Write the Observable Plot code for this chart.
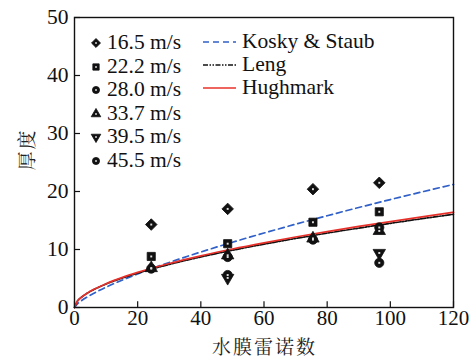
<!DOCTYPE html>
<html><head><meta charset="utf-8">
<script src="https://cdn.jsdelivr.net/npm/d3@7"></script>
<script src="https://cdn.jsdelivr.net/npm/@observablehq/plot@0.6"></script>
</head>
<body style="margin:0;background:#fff;font-family:'Liberation Serif',serif">
<div id="wrap" style="position:relative;width:471px;height:358px;font-family:'Liberation Serif',serif"></div>
<script>
// ---- data ----
const speeds = ["16.5 m/s", "22.2 m/s", "28.0 m/s", "33.7 m/s", "39.5 m/s", "45.5 m/s"];
const speedSymbols = ["square", "square", "circle", "triangle", "triangle", "circle"];
const speedRotate = [45, 0, 0, 0, 180, 0];
const reX = [24.3, 48.5, 75.5, 96.5];
const y165 = [14.3, 17.0, 20.4, 21.5];
const y222 = [8.8, 11.0, 14.7, 16.5];
const y280 = [6.7, 8.7, 11.7, 13.8];
const y337 = [6.8, 9.0, 11.9, 13.2];
const y395 = [null, 5.1, null, 9.4];
const y455 = [null, 5.6, null, 7.7];
const seriesY = [y165, y222, y280, y337, y395, y455];

const curveX = [0, 1, 2, 4, 6, 10, 15, 20, 30, 40, 50, 60, 70, 80, 90, 100, 110, 120];
const kosky = [0, 0.66, 1.09, 1.80, 2.42, 3.50, 4.70, 5.79, 7.77, 9.57, 11.25, 12.84, 14.36, 15.82, 17.24, 18.61, 19.93, 21.22];
const leng = [0, 1.15, 1.68, 2.45, 3.05, 4.05, 5.05, 5.93, 7.43, 8.72, 9.87, 10.92, 11.90, 12.82, 13.69, 14.51, 15.31, 16.07];
const hughmark = [0, 1.14, 1.68, 2.47, 3.09, 4.11, 5.15, 6.05, 7.58, 8.90, 10.08, 11.15, 12.15, 13.09, 13.98, 14.82, 15.63, 16.41];
const models = ["Kosky & Staub", "Leng", "Hughmark"];
const modelColors = ["#3060c8", "#111111", "#e8302a"];
const modelDash = ["6,4", "5,1.5,1.5,1.5,1.5,1.5", null];
const modelValues = [kosky, leng, hughmark];

const xTicks = [0, 20, 40, 60, 80, 100, 120];
const yTicks = [0, 10, 20, 30, 40, 50];

// ---- build tables ----
const points = [];
seriesY.forEach((ys, s) => ys.forEach((v, i) => {
  if (v != null) points.push({x: reX[i], y: v, s, symbol: speedSymbols[s], rot: speedRotate[s]});
}));
const curves = modelValues.map(vals => curveX.map((x, i) => ({x, y: vals[i]})));

const plot = Plot.plot({
  width: 471, height: 358,
  marginLeft: 74, marginRight: 18, marginTop: 17, marginBottom: 51,
  style: "font-family: 'Liberation Serif', serif; font-size: 21px; color: #111; background: white;",
  x: {domain: [0, 120]},
  y: {domain: [0, 50]},
  marks: [
    Plot.axisX({ticks: xTicks, tickSize: 0, tickPadding: 3, label: null, fontFamily: "Liberation Serif", fontSize: 21}),
    Plot.axisY({ticks: yTicks, tickSize: 0, tickPadding: 6, label: null, fontFamily: "Liberation Serif", fontSize: 21.5}),
    Plot.ruleX(xTicks, {x: d => d, y1: 0, y2: 1.0, stroke: "#111", strokeWidth: 1.2}),
    Plot.ruleY(yTicks, {y: d => d, x1: 0, x2: 1.9, stroke: "#111", strokeWidth: 1.2}),
    ...curves.map((c, k) => Plot.line(c, {x: "x", y: "y", stroke: modelColors[k], strokeWidth: 1.7,
      strokeDasharray: modelDash[k], curve: "monotone-x"})),
    Plot.dot(points, {x: "x", y: "y", symbol: "symbol", rotate: "rot", r: 4.6,
      fill: "#111", stroke: "#111", strokeWidth: 0.8}),
    Plot.dot(points, {x: "x", y: "y", symbol: "square", r: 1.1, fill: "#ddd", stroke: "none"}),
    Plot.frame({stroke: "#111", strokeWidth: 1.4})
  ]
});
const wrap = document.getElementById("wrap");
wrap.appendChild(plot);

function addDiv(css, html) {
  const d = document.createElement("div");
  d.setAttribute("style", "position:absolute;white-space:nowrap;color:#111;" + css);
  d.innerHTML = html;
  wrap.appendChild(d);
  return d;
}
const CJK = "font-family:'Noto Serif CJK SC',serif;font-size:19px;line-height:19px;letter-spacing:2px;color:#222;";
// axis titles
addDiv(CJK + "left:212px;top:336px;", "水膜雷诺数");
addDiv(CJK + "left:3px;top:140px;width:44px;text-align:center;transform:rotate(-90deg);", "厚度");

// legend (speeds)
const rowY = [42, 65.5, 89, 112.5, 136, 159.5];
const symMap = {circle: d3.symbolCircle, square: d3.symbolSquare, triangle: d3.symbolTriangle};
const LG = "font-family:'Liberation Serif',serif;font-size:21.5px;line-height:22px;";
speeds.forEach((lab, i) => {
  const sym = d3.symbol(symMap[speedSymbols[i]], 40)();
  addDiv(LG + `left:89px;top:${rowY[i] - 11}px;`,
    `<svg width="14" height="14" style="vertical-align:-1px;margin-right:4px"><path d="${sym}" transform="translate(7,7) rotate(${speedRotate[i]})" fill="#111" stroke="#111" stroke-width="0.8"/><rect x="6" y="6.3" width="2" height="1.4" fill="#ddd"/></svg>${lab}`);
});
// legend (models)
const mRowY = [40.5, 63.5, 86.5];
models.forEach((lab, k) => {
  addDiv(LG + `left:203px;top:${mRowY[k] - 11}px;`,
    `<svg width="34" height="14" style="vertical-align:-1px;margin-right:5px"><line x1="0" x2="33" y1="7" y2="7" stroke="${modelColors[k]}" stroke-width="1.6" ${modelDash[k] ? `stroke-dasharray="${modelDash[k]}"` : ""}/></svg>${lab.replace("&", "&amp;")}`);
});
</script></body></html>
